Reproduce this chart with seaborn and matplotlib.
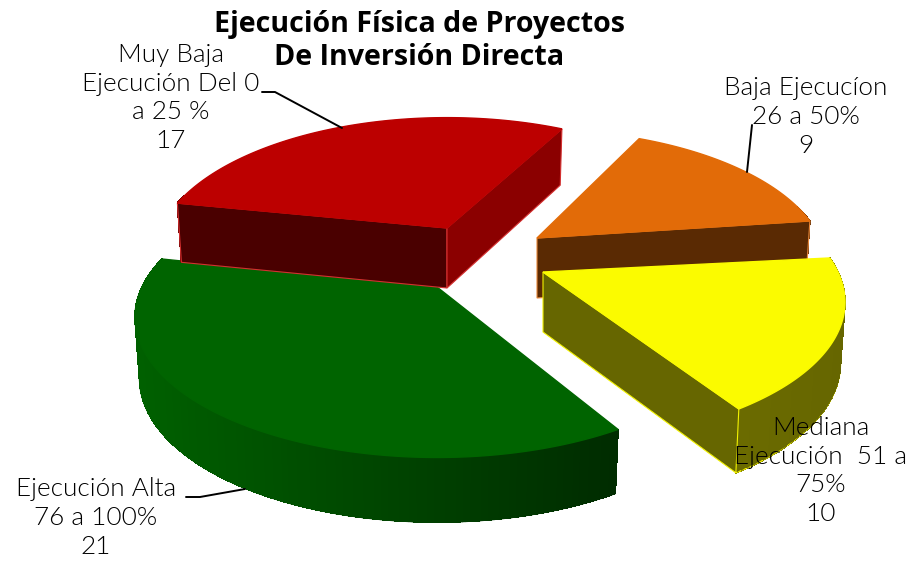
import numpy as np
import matplotlib
matplotlib.use("Agg")
import matplotlib.pyplot as plt
import seaborn as sns

# Data
labels = ['Baja Ejecucíon\n26 a 50%\n9',
          'Mediana\nEjecución  51 a\n75%\n10',
          'Ejecución Alta\n76 a 100%\n21',
          'Muy Baja\nEjecución Del 0\na 25 %\n17']
values = [9, 10, 21, 17]
title = 'Ejecución Física de Proyectos\nDe Inversión Directa'

# Colours for each slice
top_colors = ['#e26b08', '#fbfb00', '#006400', '#bc0000']
start_wall = ['#5a2a03', '#666600', '#003000', '#4a0000']
end_wall = ['#5a2a03', '#666600', '#003000', '#8b0000']
rim_left = ['#8a4204', '#6b6b00', '#006000', '#6b0000']
rim_right = ['#5a2a03', '#666600', '#002c00', '#6b0000']
edge_colors = ['#e8883a', '#f2f200', '#006400', '#d43030']

# Layout of the 3D pie, in pixels of the figure
apex = [(537, 238), (543, 272), (437, 287), (447, 228)]
start_angle = 27
angle_nudge = [-1.5, 0, 3, 1.5]
scale_x = [0.96, 1.0, 1.0, 0.97]
scale_y = [0.98, 1.0, 1.0, 1.0]
show_start_wall = [False, False, False, True]
show_end_wall = [True, True, False, True]
radius_x = 295
radius_y = 134
depth = 60
persp = 0.214
bottom_scale = 0.985

label_pos = [(806, 117), (821, 471), (96, 518), (171, 98)]
leaders = [[(752, 125), (747, 172)],
           [(186, 497), (200, 497), (245, 489)],
           [(262, 92), (275, 92), (342, 128)]]


def project(center, theta, i, r=1.0, bottom=False):
    # unit disc point to screen pixels, with a simple perspective
    x = r * np.sin(theta)
    y = r * np.cos(theta)
    d = 1 + persp * y
    sx = radius_x * scale_x[i] * x / d
    sy = radius_y * scale_y[i] * y / d
    if bottom:
        sx = sx * bottom_scale
        sy = sy * bottom_scale - depth / (1 + 0.5 * persp * y)
    return center[0] + sx, center[1] - sy


sns.set_theme(style="white")
plt.rcParams['font.family'] = ['Lato', 'DejaVu Sans']

fig = plt.figure(figsize=(9.14, 5.61), dpi=100)
ax = fig.add_axes([0, 0, 1, 1])
ax.set_xlim(0, 914)
ax.set_ylim(561, 0)
ax.axis('off')

shares = np.array(values) / sum(values) * 2 * np.pi
starts = np.radians(start_angle) + np.concatenate([[0], np.cumsum(shares)[:-1]])

# back slices first, the yellow one sits on the orange and the green on the red
for i in [3, 0, 1, 2]:
    c = apex[i]
    t0 = starts[i] + np.radians(angle_nudge[i])
    theta = np.linspace(t0, t0 + shares[i], 240)
    tx, ty = project(c, theta, i)
    bx, by = project(c, theta, i, bottom=True)
    ax0, ay0 = c
    bx0, by0 = project(c, 0.0, i, r=0, bottom=True)

    # rim, drawn as strips so it can go from light to dark
    # only the part that faces the viewer, the rest would peek past the top face
    shades = sns.blend_palette([rim_left[i], rim_right[i]], 120)
    rank = np.clip((tx - tx.min()) / (tx.max() - tx.min()), 0, 0.999)
    for j in range(len(theta) - 1):
        if np.cos(theta[j]) > 0.25:
            continue
        col = shades[int(rank[j] * 120)]
        ax.fill([tx[j], tx[j + 1], bx[j + 1], bx[j]],
                [ty[j], ty[j + 1], by[j + 1], by[j]],
                color=col, lw=0.5, antialiased=False, zorder=i * 3 + 1)
        # smooth lower edge, the strips have no antialiasing
        edge_col = edge_colors[i] if i == 1 else col
        ax.plot(bx[j:j + 2], by[j:j + 2], color=edge_col, lw=1, zorder=i * 3 + 1)

    # the flat cut walls that can be seen
    if show_start_wall[i]:
        ax.fill([ax0, tx[0], bx[0], bx0], [ay0, ty[0], by[0], by0],
                facecolor=start_wall[i], edgecolor=edge_colors[i], lw=0.8, zorder=i * 3 + 1)
    if show_end_wall[i]:
        ax.fill([ax0, tx[-1], bx[-1], bx0], [ay0, ty[-1], by[-1], by0],
                facecolor=end_wall[i], edgecolor=edge_colors[i], lw=0.8, zorder=i * 3 + 1)

    # top face
    ax.fill(np.r_[ax0, tx], np.r_[ay0, ty], facecolor=top_colors[i],
            edgecolor=top_colors[i], lw=1, zorder=i * 3 + 2)

for pts in leaders:
    xs, ys = zip(*pts)
    ax.plot(xs, ys, color='black', lw=1.4, zorder=20)

for txt, pos in zip(labels, label_pos):
    ax.text(pos[0], pos[1], txt, ha='center', va='center', fontsize=18.8,
            fontweight=300, color='black', linespacing=1.25, zorder=21)

ax.text(419, 41, title, ha='center', va='center', fontsize=20.6, fontweight='bold',
        color='black', family=['Open Sans'], linespacing=1.15, zorder=21)

fig.savefig('out.png', dpi=100)
